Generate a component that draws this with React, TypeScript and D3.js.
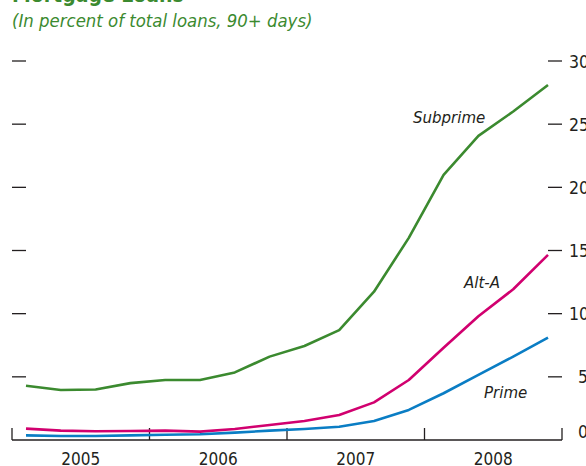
import React from "react";
import * as d3 from "d3";

const quarters = [
  "2005Q1","2005Q2","2005Q3","2005Q4",
  "2006Q1","2006Q2","2006Q3","2006Q4",
  "2007Q1","2007Q2","2007Q3","2007Q4",
  "2008Q1","2008Q2","2008Q3","2008Q4",
];
const subprime = [4.3, 3.96, 4.0, 4.5, 4.75, 4.75, 5.35, 6.6, 7.44, 8.7, 11.74, 16.0, 20.98, 24.07, 26.0, 28.1];
const altA = [0.9, 0.74, 0.69, 0.71, 0.74, 0.66, 0.87, 1.19, 1.5, 1.98, 2.98, 4.75, 7.3, 9.8, 11.93, 14.65];
const prime = [0.37, 0.32, 0.32, 0.37, 0.42, 0.45, 0.58, 0.74, 0.87, 1.05, 1.5, 2.38, 3.7, 5.15, 6.6, 8.1];
const years = [2005, 2006, 2007, 2008];
const yTicks = [0, 5, 10, 15, 20, 25, 30];

const GREEN = "#3b8a2f";
const MAGENTA = "#d1006f";
const BLUE = "#0a7dc4";
const TEXT = "#231f20";
const FONT = "'Liberation Sans Narrow', 'Arial Narrow', 'DejaVu Sans Condensed', sans-serif";

export default function App() {
  const W = 586, H = 466;
  const x = d3.scalePoint<string>().domain(quarters).range([26, 548]);
  const xYear = d3.scaleLinear().domain([2005, 2009]).range([12, 562]);
  const y = d3.scaleLinear().domain([0, 30]).range([440, 61]);

  const line = d3.line<number>()
    .x((_, i) => x(quarters[i]) as number)
    .y((d) => y(d));

  const series = [
    { name: "Subprime", values: subprime, color: GREEN },
    { name: "Alt-A", values: altA, color: MAGENTA },
    { name: "Prime", values: prime, color: BLUE },
  ];

  return (
    <svg width={W} height={H} style={{ position: "absolute", left: 0, top: 0 }} fontFamily={FONT}>
      <rect width={W} height={H} fill="#fff" />
      <text x={12} y={2} fill={GREEN} fontSize={21} fontWeight="bold">Mortgage Loans</text>
      <text x={12} y={27} fill={GREEN} fontSize={18.4} fontStyle="italic">(In percent of total loans, 90+ days)</text>

      {/* left tick marks */}
      {yTicks.filter((t) => t > 0).map((t) => (
        <line key={"l" + t} x1={12} x2={26} y1={y(t)} y2={y(t)} stroke={TEXT} strokeWidth={1.3} />
      ))}
      {/* right tick marks and labels */}
      {yTicks.filter((t) => t > 0).map((t) => (
        <line key={"r" + t} x1={548} x2={562} y1={y(t)} y2={y(t)} stroke={TEXT} strokeWidth={1.3} />
      ))}
      {yTicks.map((t) => (
        <text key={"rt" + t} x={t < 10 ? 578 : 569} y={t === 0 ? y(t) - 2 : y(t) + 6.5} fontSize={17.5} fill={TEXT}>{t}</text>
      ))}

      {/* x axis */}
      <line x1={xYear(2005)} x2={xYear(2009)} y1={y(0)} y2={y(0)} stroke={TEXT} strokeWidth={1.3} />
      {[2005, 2006, 2007, 2008, 2009].map((yr) => (
        <line key={"xt" + yr} x1={xYear(yr)} x2={xYear(yr)} y1={y(0) - 12} y2={y(0)} stroke={TEXT} strokeWidth={1.3} />
      ))}
      {years.map((yr) => (
        <text key={"yl" + yr} x={xYear(yr + 0.5)} y={465} textAnchor="middle" fontSize={17} fill={TEXT}>{yr}</text>
      ))}

      {series.map((s) => (
        <path key={s.name} d={line(s.values) || ""} fill="none" stroke={s.color} strokeWidth={2.6} strokeLinejoin="round" />
      ))}

      <text x={413} y={123} fontSize={16.7} fontStyle="italic" fill={TEXT}>Subprime</text>
      <text x={464} y={288} fontSize={16.7} fontStyle="italic" fill={TEXT}>Alt-A</text>
      <text x={484} y={398} fontSize={16.7} fontStyle="italic" fill={TEXT}>Prime</text>
    </svg>
  );
}
